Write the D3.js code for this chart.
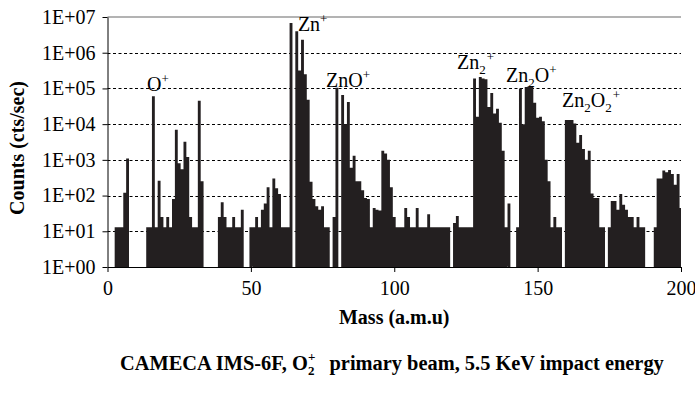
<!DOCTYPE html>
<html>
<head>
<meta charset="utf-8">
<script src="https://cdn.jsdelivr.net/npm/d3@7"></script>
<style>
  body { margin: 0; background: #fff; }
  text { font-family: "Liberation Serif", "Times New Roman", serif; fill: #000; }
</style>
</head>
<body>
<script>
// mass axis (a.m.u) - one value per integer mass, 0..200
var masses = d3.range(0, 201);
// counts (cts/sec), 0 = no signal
var counts = [
    0, 0, 0, 13, 13, 13, 120, 1100, 0, 0,                            // 0-9
    0, 0, 0, 0, 13, 13, 60000, 13, 260, 25,                          // 10-19
    13, 25, 13, 80, 7000, 800, 550, 3200, 1200, 25,                  // 20-29
    13, 13, 45000, 250, 0, 0, 0, 0, 0, 25,                           // 30-39
    65, 25, 13, 13, 25, 13, 13, 40, 0, 0,                            // 40-49
    13, 13, 25, 13, 40, 60, 170, 13, 300, 160,                       // 50-59
    110, 13, 13, 13, 6800000, 0, 4000000, 320000, 2300000, 250000,   // 60-69
    48000, 245, 80, 50, 40, 50, 13, 13, 0, 25,                       // 70-79
    105000, 0, 65000, 10000, 42000, 600, 1300, 250, 250, 140,        // 80-89
    85, 80, 13, 45, 40, 38, 1800, 1500, 1000, 170,                   // 90-99
    25, 13, 13, 13, 45, 25, 13, 13, 45, 13,                          // 100-109
    13, 13, 30, 13, 13, 13, 13, 13, 13, 13,                          // 110-119
    0, 17, 27, 13, 13, 13, 13, 13, 190000, 16000,                    // 120-129
    210000, 190000, 180000, 30000, 75000, 20000, 27000, 11000, 1800, 13, // 130-139
    60, 0, 0, 13, 100000, 10000, 110000, 115000, 110000, 40000,      // 140-149
    15000, 16000, 12000, 1000, 250, 13, 25, 13, 13, 0,               // 150-159
    13000, 13000, 13000, 10500, 3000, 5000, 2000, 1000, 1800, 115,   // 160-169
    85, 85, 13, 13, 0, 13, 70, 70, 40, 110,                          // 170-179
    55, 40, 25, 25, 13, 25, 13, 13, 0, 0,                            // 180-189
    0, 13, 300, 300, 500, 450, 520, 400, 200, 400,                   // 190-199
    45                                                               // 200
];
var xTicks = [0, 50, 100, 150, 200];
var yTicks = [1, 10, 100, 1000, 10000, 100000, 1000000, 10000000];
// peak labels: text pieces and where the label starts (mass, counts at baseline)
var peakText = [
    [{t: 'O'}, {t: '+', s: 'sup'}],
    [{t: 'Zn'}, {t: '+', s: 'sup'}],
    [{t: 'ZnO'}, {t: '+', s: 'sup'}],
    [{t: 'Zn'}, {t: '2', s: 'sub'}, {t: '+', s: 'sup', dx: 1}],
    [{t: 'Zn'}, {t: '2', s: 'sub'}, {t: 'O'}, {t: '+', s: 'sup'}],
    [{t: 'Zn'}, {t: '2', s: 'sub'}, {t: 'O'}, {t: '2', s: 'sub'}, {t: '+', s: 'sup', dx: 1}]
];
var peakMass = [13.8, 66.4, 76.2, 121.9, 139.0, 158.5];
var peakCount = [85000, 4000000, 107000, 340000, 150000, 30000];

function drawChart(){
    var width = 695,
        height = 404;
    var svg = d3.select('body')
        .append('svg')
        .attr('width', width)
        .attr('height', height);

    var x = d3.scaleLinear()
        .domain([0, 200])
        .range([107.5, 681]);
    var y = d3.scaleLog()
        .domain([1, 1e7])
        .range([267, 17]);

    //dashed gridlines for the inner decades
    svg.selectAll('.grid')
        .data(yTicks.slice(1, -1))
        .enter()
        .append('line')
        .attr('class', 'grid')
        .attr('x1', x(0))
        .attr('x2', x(200))
        .attr('y1', function(d){ return Math.round(y(d)) + 0.5; })
        .attr('y2', function(d){ return Math.round(y(d)) + 0.5; })
        .attr('stroke', '#000')
        .attr('stroke-width', 1)
        .attr('stroke-dasharray', '3,2.5');

    //gray frame line at the top
    svg.append('line')
        .attr('x1', x(0))
        .attr('x2', x(200))
        .attr('y1', y(1e7))
        .attr('y2', y(1e7))
        .attr('stroke', '#9a9a9a')
        .attr('stroke-width', 1.5);

    //spectrum bars, one path so neighbouring bars join without seams
    var p = d3.path();
    masses.forEach(function(m){
        if (counts[m] <= 1) return;
        var x0 = x(Math.max(0, m - 0.5)),
            x1 = x(Math.min(200, m + 0.5));
        p.rect(x0, y(counts[m]), x1 - x0, y(1) - y(counts[m]));
    });
    svg.append('path')
        .attr('class', 'bars')
        .attr('d', p.toString())
        .attr('fill', '#231f20');

    //axes
    var fmt = function(d){
        var e = Math.round(Math.log10(d));
        return '1E+' + (e < 10 ? '0' : '') + e;
    };
    var yAxis = svg.append('g')
        .attr('transform', 'translate(' + x(0) + ',0)')
        .call(d3.axisLeft(y).tickValues(yTicks).tickFormat(fmt).tickSize(5).tickSizeOuter(0).tickPadding(7));
    var xAxis = svg.append('g')
        .attr('transform', 'translate(0,' + y(1) + ')')
        .call(d3.axisBottom(x).tickValues(xTicks).tickSize(5).tickSizeOuter(0).tickPadding(9));
    [xAxis, yAxis].forEach(function(g){
        g.select('.domain').attr('stroke', '#000');
        g.selectAll('.tick line').attr('stroke', '#000');
        g.selectAll('.tick text')
            .attr('font-size', 20)
            .style('font-family', '"Liberation Serif", "Times New Roman", serif')
            .attr('fill', '#000');
    });

    //rich text helper for sub/superscripts
    function rich(sel, parts, big, small, supUp, subDown){
        var off = 0;
        parts.forEach(function(p){
            var target = p.s === 'sup' ? -supUp : (p.s === 'sub' ? subDown : 0);
            sel.append('tspan')
                .attr('dy', target - off)
                .attr('dx', p.dx || 0)
                .attr('font-size', p.s ? small : big)
                .text(p.t);
            off = target;
        });
    }

    //peak labels
    peakText.forEach(function(parts, i){
        var t = svg.append('text')
            .attr('x', x(peakMass[i]))
            .attr('y', y(peakCount[i]))
            .attr('font-size', 20);
        rich(t, parts, 20, 13, 8, 5);
    });

    //axis titles
    svg.append('text')
        .attr('x', (x(0) + x(200)) / 2)
        .attr('y', 324)
        .attr('text-anchor', 'middle')
        .attr('font-size', 20)
        .attr('font-weight', 'bold')
        .text('Mass (a.m.u)');
    svg.append('text')
        .attr('transform', 'translate(24,148) rotate(-90)')
        .attr('text-anchor', 'middle')
        .attr('font-size', 20)
        .attr('font-weight', 'bold')
        .text('Counts (cts/sec)');

    //caption under the chart
    var cap = svg.append('text')
        .attr('x', 120)
        .attr('y', 370)
        .attr('font-size', 20.4)
        .attr('font-weight', 'bold')
        .style('white-space', 'pre');
    rich(cap, [
        {t: 'CAMECA IMS-6F, O'},
        {t: '2', s: 'sub'},
        {t: '+', s: 'sup', dx: -6.5},
        {t: '  primary beam, 5.5 KeV impact energy', dx: 4}
    ], 20.4, 13, 9, 5);
}

drawChart();
</script>
</body>
</html>
